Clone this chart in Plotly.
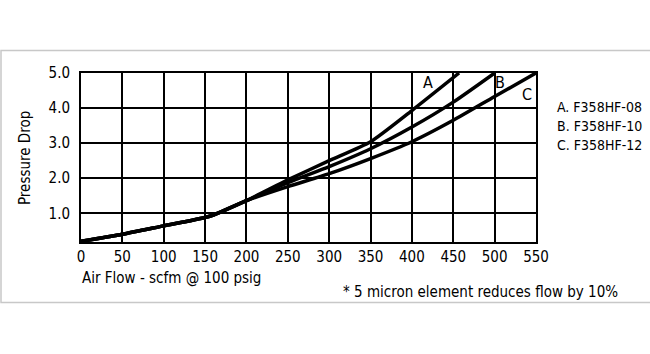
import plotly.graph_objects as go

# ---- data ----
x_A = [0, 50, 100, 150, 160, 200, 250, 300, 350, 400, 457]
y_A = [0.2, 0.4, 0.64, 0.88, 0.95, 1.36, 1.95, 2.5, 3.04, 3.93, 5.0]
x_B = [0, 50, 100, 150, 160, 200, 250, 300, 350, 400, 450, 500]
y_B = [0.2, 0.4, 0.64, 0.88, 0.95, 1.36, 1.87, 2.33, 2.84, 3.46, 4.17, 5.0]
x_C = [0, 50, 100, 150, 160, 200, 250, 300, 350, 400, 450, 500, 550]
y_C = [0.2, 0.4, 0.64, 0.88, 0.95, 1.36, 1.76, 2.13, 2.56, 3.04, 3.65, 4.33, 5.0]
curve_labels = ["A", "B", "C"]
label_x = [420, 507, 539]
label_y = [4.72, 4.72, 4.39]
legend_lines = ["A. F358HF-08", "B. F358HF-10", "C. F358HF-12"]
x_ticks = [0, 50, 100, 150, 200, 250, 300, 350, 400, 450, 500, 550]
y_ticks = [1, 2, 3, 4, 5]
y_tick_text = ["1.0", "2.0", "3.0", "4.0", "5.0"]

FONT = "DejaVu Sans Condensed, Liberation Sans Narrow, sans-serif"
W, H = 650, 354
L, R, T, B = 81, 114, 73, 112
PW, PH = W - L - R, H - T - B

def px(x):
    return (x - L) / PW

def py(y):
    return (H - B - y) / PH

fig = go.Figure()
for xs, ys in [(x_A, y_A), (x_B, y_B), (x_C, y_C)]:
    fig.add_trace(go.Scatter(x=xs, y=ys, mode="lines",
                             line=dict(color="black", width=3.5, shape="spline", smoothing=0.6),
                             showlegend=False, hoverinfo="skip"))

annotations = []
for t, lx, ly in zip(curve_labels, label_x, label_y):
    annotations.append(dict(x=lx, y=ly, xref="x", yref="y", text=t, showarrow=False,
                            font=dict(family=FONT, size=16, color="black")))
for i, t in enumerate(legend_lines):
    annotations.append(dict(x=px(555), y=py(107 + 19 * i), xref="paper", yref="paper", text=t,
                            showarrow=False, xanchor="left", yanchor="middle",
                            font=dict(family=FONT, size=14, color="black")))
annotations.append(dict(x=px(25), y=py(158), xref="paper", yref="paper", text="Pressure Drop",
                        textangle=-90, showarrow=False, xanchor="center", yanchor="middle",
                        font=dict(family=FONT, size=15, color="black")))
annotations.append(dict(x=px(80), y=py(278), xref="paper", yref="paper",
                        text="Air Flow - scfm @ 100 psig", showarrow=False,
                        xanchor="left", yanchor="middle",
                        font=dict(family=FONT, size=15, color="black")))
annotations.append(dict(x=px(341), y=py(292), xref="paper", yref="paper",
                        text="* 5 micron element reduces flow by 10%", showarrow=False,
                        xanchor="left", yanchor="middle",
                        font=dict(family=FONT, size=15, color="black")))

shapes = [dict(type="rect", xref="paper", yref="paper",
               x0=px(1), x1=px(651), y0=py(302.5), y1=py(50.5),
               line=dict(color="#c8c8c8", width=1.5), layer="below")]

fig.update_layout(
    width=W, height=H, margin=dict(l=L, r=R, t=T, b=B),
    paper_bgcolor="white", plot_bgcolor="white",
    annotations=annotations, shapes=shapes,
    xaxis=dict(range=[0, 550], tickvals=x_ticks, showgrid=True, gridcolor="black", gridwidth=1.6,
               showline=True, linecolor="black", linewidth=2, mirror=True, zeroline=False,
               ticks="", tickfont=dict(family=FONT, size=15, color="black"), fixedrange=True),
    yaxis=dict(range=[0.18, 5.0], tickvals=y_ticks, ticktext=y_tick_text, showgrid=True,
               gridcolor="black", gridwidth=1.6, showline=True, linecolor="black", linewidth=2,
               mirror=True, zeroline=False, ticks="", ticklabelstandoff=6,
               tickfont=dict(family=FONT, size=15, color="black"), fixedrange=True),
)

fig.write_html("out.html")
